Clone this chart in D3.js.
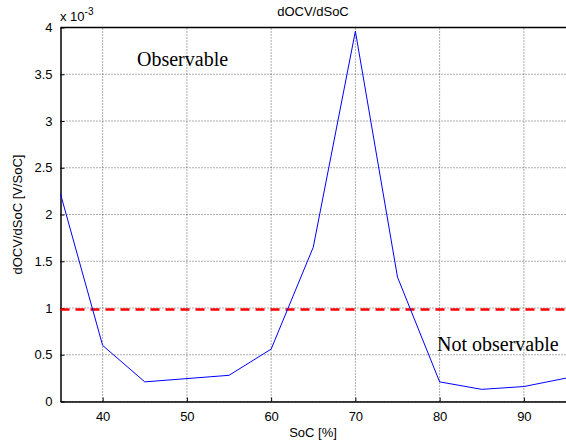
<!DOCTYPE html>
<html>
<head>
<meta charset="utf-8">
<script src="https://cdn.jsdelivr.net/npm/d3@7"></script>
<style>
  body { margin: 0; background: #fff; }
  svg text { fill: #000; }
</style>
</head>
<body>
<div id="chart"></div>
<script>
// SoC [%] and dOCV/dSoC (x 1e-3)
const soc = [35, 40, 45, 55, 60, 65, 70, 75, 80, 85, 90, 95];
const docv = [2.22, 0.6, 0.21, 0.28, 0.56, 1.65, 3.96, 1.33, 0.21, 0.13, 0.16, 0.25];
const threshold = 0.985;
const xTicks = [40, 50, 60, 70, 80, 90];
const yTicks = [0, 0.5, 1, 1.5, 2, 2.5, 3, 3.5, 4];

const W = 566, H = 445;
const m = { left: 60.5, right: 0, top: 27.5, bottom: 43.5 };
const sans = "'Liberation Sans', Arial, sans-serif";
const serif = "'Liberation Serif', 'DejaVu Serif', serif";

const svg = d3.select("#chart").append("svg")
  .attr("width", W).attr("height", H)
  .style("font-family", sans);

const x = d3.scaleLinear().domain([35, 95]).range([m.left, W - m.right]);
const y = d3.scaleLinear().domain([0, 4]).range([H - m.bottom, m.top]);

// grid
const grid = svg.append("g");
grid.selectAll(".gx").data(xTicks).enter().append("line")
  .attr("x1", d => x(d)).attr("x2", d => x(d))
  .attr("y1", y(0)).attr("y2", y(4))
  .attr("stroke", "#333").attr("stroke-width", 0.8).attr("stroke-dasharray", "1,2");
grid.selectAll(".gy").data(yTicks).enter().append("line")
  .attr("x1", x(35)).attr("x2", x(95))
  .attr("y1", d => y(d)).attr("y2", d => y(d))
  .attr("stroke", "#333").attr("stroke-width", 0.8).attr("stroke-dasharray", "1,2");

// axes
const xAxis = d3.axisBottom(x).tickValues(xTicks).tickSizeInner(-4).tickSizeOuter(0).tickPadding(10);
const yAxis = d3.axisLeft(y).tickValues(yTicks).tickSizeInner(-4).tickSizeOuter(0).tickPadding(8)
  .tickFormat(d => d3.format("")(d));

const gx = svg.append("g").attr("transform", `translate(0,${y(0)})`).call(xAxis);
const gy = svg.append("g").attr("transform", `translate(${x(35)},0)`).call(yAxis);
[gx, gy].forEach(g => {
  g.attr("font-family", null);
  g.select(".domain").attr("stroke", "#000").attr("stroke-width", 1.5);
  g.selectAll(".tick line").attr("stroke", "#000");
  g.selectAll(".tick text").attr("font-size", 13).style("font-family", sans);
});

// top border
svg.append("line")
  .attr("x1", x(35)).attr("x2", x(95)).attr("y1", y(4)).attr("y2", y(4))
  .attr("stroke", "#000").attr("stroke-width", 1.5);

// threshold
svg.append("line")
  .attr("x1", x(35)).attr("x2", x(95))
  .attr("y1", y(threshold)).attr("y2", y(threshold))
  .attr("stroke", "#f00").attr("stroke-width", 2.5).attr("stroke-dasharray", "9,6");

// series
const line = d3.line().x((d, i) => x(soc[i])).y(d => y(d));
svg.append("path").datum(docv)
  .attr("d", line)
  .attr("fill", "none").attr("stroke", "#00f").attr("stroke-width", 1);

// annotations
svg.append("text").attr("x", 137).attr("y", 66)
  .style("font-family", serif).attr("font-size", 20)
  .text("Observable");
svg.append("text").attr("x", 437).attr("y", 351)
  .style("font-family", serif).attr("font-size", 20)
  .text("Not observable");

// titles
svg.append("text").attr("x", 313).attr("y", 16).attr("text-anchor", "middle")
  .attr("font-size", 13).text("dOCV/dSoC");
svg.append("text").attr("x", 313).attr("y", 437).attr("text-anchor", "middle")
  .attr("font-size", 13).text("SoC [%]");
svg.append("text").attr("transform", `translate(22,${(y(0) + y(4)) / 2}) rotate(-90)`)
  .attr("text-anchor", "middle").attr("font-size", 13).text("dOCV/dSoC [V/SoC]");

const exp = svg.append("text").attr("x", 60).attr("y", 21).attr("font-size", 13);
exp.append("tspan").text("x 10");
exp.append("tspan").attr("dy", -6).attr("font-size", 10).text("-3");
</script>
</body>
</html>
